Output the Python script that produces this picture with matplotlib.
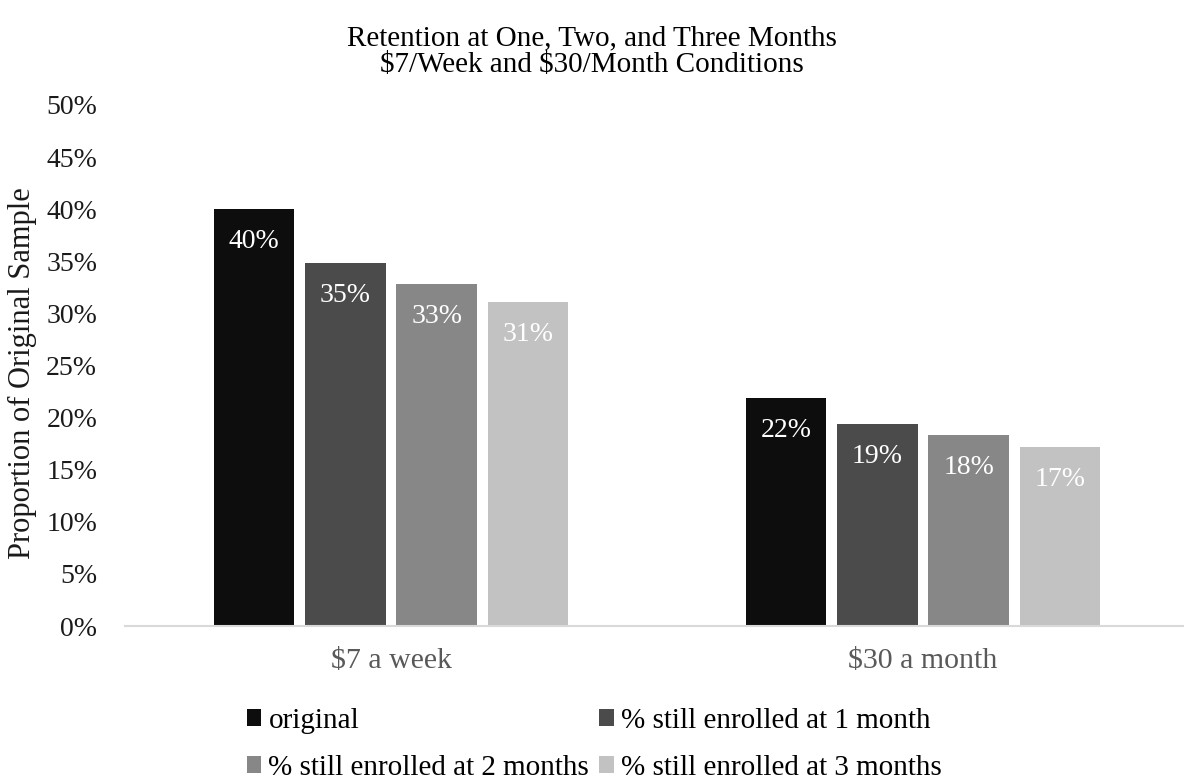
import matplotlib
matplotlib.use("Agg")
import matplotlib.pyplot as plt
from matplotlib.ticker import FuncFormatter
import numpy as np

plt.rcParams['font.family'] = ['Liberation Serif', 'DejaVu Serif']
plt.rcParams['text.parse_math'] = False

categories = ["$7 a week", "$30 a month"]
series_names = ["original", "% still enrolled at 1 month",
                "% still enrolled at 2 months", "% still enrolled at 3 months"]
original = [40.0, 21.9]
month1 = [34.8, 19.4]
month2 = [32.8, 18.3]
month3 = [31.1, 17.2]
colors = ["#0d0d0d", "#4b4b4b", "#878787", "#c2c2c2"]

series = [original, month1, month2, month3]

fig = plt.figure(figsize=(11.84, 7.83), dpi=100)
ax = fig.add_axes([125/1184, (783-626)/783, 1 - 125/1184, (626-105)/783])

x = np.arange(len(categories))
width = 0.151
step = 0.1716
for i, (vals, c) in enumerate(zip(series, colors)):
    pos = x + (i - 1.5) * step
    bars = ax.bar(pos, vals, width=width, color=c, label=series_names[i], zorder=3)
    for b, v in zip(bars, vals):
        ax.text(b.get_x() + b.get_width()/2, v - 3.1, f"{round(v):.0f}%",
                ha='center', va='center', color='white', fontsize=20)

ax.set_ylim(0, 50)
ax.set_xlim(-0.5, -0.5 + 1059/532)
ax.set_yticks(np.arange(0, 51, 5))
ax.yaxis.set_major_formatter(FuncFormatter(lambda v, p: f"{v:.0f}%"))
ax.set_xticks(x)
ax.set_xticklabels(categories)
ax.tick_params(axis='y', length=0, pad=20, labelsize=20, labelcolor='#1a1a1a')
ax.tick_params(axis='x', length=0, pad=16, labelsize=21.5, labelcolor='#595959')
for s in ['top', 'right', 'left']:
    ax.spines[s].set_visible(False)
ax.spines['bottom'].set_color('#d9d9d9')
ax.spines['bottom'].set_linewidth(1.5)
ax.spines['bottom'].set_zorder(4)

fig.text(22/1184, 1 - 373/783, "Proportion of Original Sample", rotation=90,
         ha='center', va='center', fontsize=22, color='#1a1a1a')

fig.text(0.5, 1 - 38/783, "Retention at One, Two, and Three Months", ha='center', va='center', fontsize=21)
fig.text(0.5, 1 - 65/783, "$7/Week and $30/Month Conditions", ha='center', va='center', fontsize=21)

handles, labels = ax.get_legend_handles_labels()
order = [0, 2, 1, 3]
fig.legend([handles[k] for k in order], [labels[k] for k in order], ncol=2, loc='upper left',
           bbox_to_anchor=(232/1184, 1 - 693/783),
           frameon=False, fontsize=21, handlelength=0.5, handleheight=0.5,
           handletextpad=0.25, columnspacing=0.35, labelspacing=0.72, borderpad=0)

fig.savefig("out.png", dpi=100)
